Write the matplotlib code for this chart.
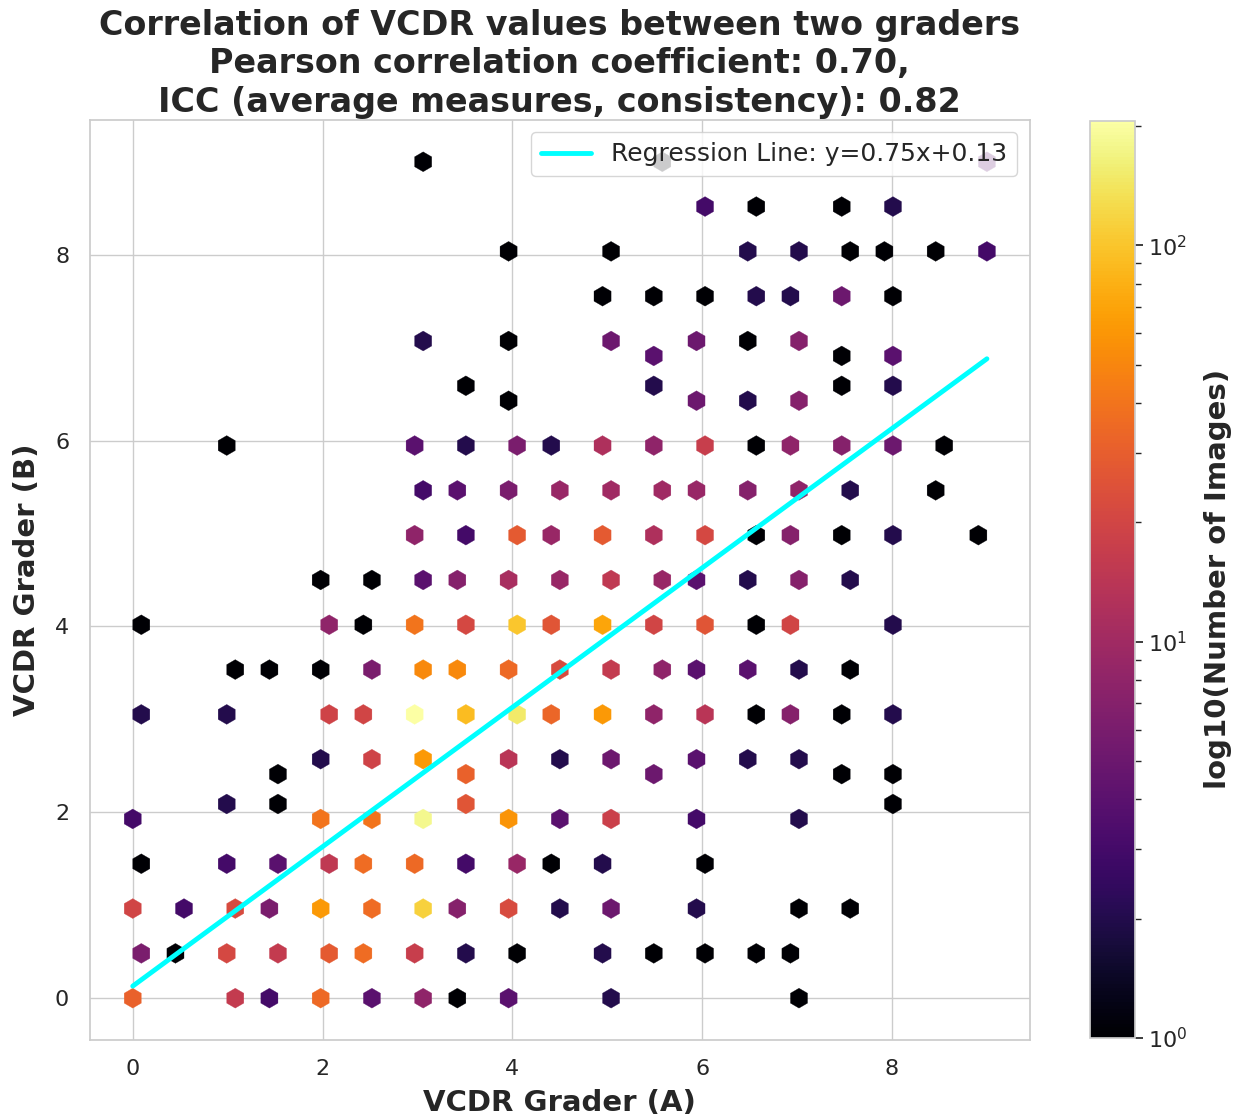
import numpy as np
import matplotlib.pyplot as plt
import seaborn as sns

# grade pairs (grader A, grader B) and how many images got that pair
grader_a = [0, 1, 1.5, 2, 2.5, 3, 3.5, 4, 5, 7,
            0, 0.5, 1, 1.5, 2, 2.5, 3, 3.5, 4, 5, 5.5, 6, 6.5, 7,
            0, 0.5, 1, 1.5, 2, 2.5, 3, 3.5, 4, 4.5, 5, 6, 7, 7.5,
            0, 1, 1.5, 2, 2.5, 3, 3.5, 4, 4.5, 5, 6,
            0, 1, 1.5, 2, 2.5, 3, 3.5, 4, 4.5, 5, 6, 7, 8,
            1.5, 2, 2.5, 3, 3.5, 4, 4.5, 5, 5.5, 6, 6.5, 7, 7.5, 8,
            0, 1, 2, 2.5, 3, 3.5, 4, 4.5, 5, 5.5, 6, 6.5, 7, 7.5, 8,
            1, 1.5, 2, 2.5, 3, 3.5, 4, 4.5, 5, 5.5, 6, 6.5, 7, 7.5,
            0, 2, 2.5, 3, 3.5, 4, 4.5, 5, 5.5, 6, 6.5, 7, 8,
            2, 2.5, 3, 3.5, 4, 4.5, 5, 5.5, 6, 6.5, 7, 7.5,
            3, 3.5, 4, 4.5, 5, 5.5, 6, 6.5, 7, 7.5, 8, 9,
            3, 3.5, 4, 4.5, 5, 5.5, 6, 6.5, 7, 7.5, 8.5,
            1, 3, 3.5, 4, 4.5, 5, 5.5, 6, 6.5, 7, 7.5, 8, 8.5,
            3.5, 4, 5.5, 6, 6.5, 7, 7.5, 8,
            3, 4, 5, 5.5, 6, 6.5, 7, 7.5, 8,
            5, 5.5, 6, 6.5, 7, 7.5, 8,
            4, 5, 6.5, 7, 7.5, 8, 8.5, 9,
            6, 6.5, 7.5, 8,
            3, 5.5, 9]

grader_b = [0] * 10 + [0.5] * 14 + [1] * 14 + [1.5] * 11 + [2] * 13 \
    + [2.5] * 14 + [3] * 15 + [3.5] * 14 + [4] * 13 + [4.5] * 12 \
    + [5] * 12 + [5.5] * 11 + [6] * 13 + [6.5] * 8 + [7] * 9 \
    + [7.5] * 7 + [8] * 8 + [8.5] * 4 + [9] * 3

n_images = [31, 16, 3, 35, 4, 8, 1, 4, 2, 1,
            6, 1, 21, 16, 28, 36, 17, 2, 1, 2, 1, 1, 1, 1,
            20, 3, 22, 6, 62, 36, 115, 7, 22, 2, 5, 2, 1, 1,
            1, 3, 4, 15, 36, 35, 3, 9, 1, 2, 1,
            3, 2, 1, 40, 40, 180, 26, 58, 4, 18, 3, 2, 1,
            1, 2, 19, 62, 31, 14, 2, 5, 5, 4, 2, 2, 1, 1,
            2, 2, 19, 20, 206, 90, 150, 33, 62, 8, 14, 1, 7, 1, 2,
            1, 1, 1, 6, 52, 52, 35, 22, 16, 8, 4, 4, 2, 1,
            1, 8, 1, 40, 21, 100, 26, 70, 20, 26, 1, 20, 2,
            1, 1, 4, 7, 11, 9, 15, 9, 4, 2, 7, 2,
            8, 3, 28, 9, 28, 12, 21, 1, 7, 1, 2, 1,
            3, 4, 6, 9, 10, 10, 9, 7, 8, 2, 1,
            1, 4, 2, 6, 2, 12, 8, 17, 1, 8, 7, 5, 1,
            1, 1, 2, 5, 2, 7, 1, 2,
            2, 1, 5, 4, 5, 1, 7, 1, 4,
            1, 1, 1, 2, 2, 5, 1,
            1, 1, 2, 2, 1, 1, 1, 3,
            3, 1, 1, 2,
            1, 1, 4]

slope = 0.75
intercept = 0.13

x = np.repeat(np.array(grader_a, dtype=float), n_images)
y = np.repeat(np.array(grader_b, dtype=float), n_images)

sns.set_theme(style="whitegrid")

fig = plt.figure(figsize=(12.42, 11.19), dpi=100)
ax = fig.add_axes([0.0725, 0.0706, 0.7565, 0.8222])
cax = fig.add_axes([0.8776, 0.0724, 0.0362, 0.8196])

hb = ax.hexbin(x, y, gridsize=50, cmap='inferno', bins='log', mincnt=1,
               linewidths=0.2)

xs = np.array([x.min(), x.max()])
ax.plot(xs, slope * xs + intercept, color='cyan', linewidth=3.5,
        label=f'Regression Line: y={slope:.2f}x+{intercept:.2f}')

ax.set_title('Correlation of VCDR values between two graders\n'
             'Pearson correlation coefficient: 0.70,\n'
             'ICC (average measures, consistency): 0.82',
             fontsize=24, fontweight='bold', pad=6)
ax.set_xlabel('VCDR Grader (A)', fontsize=21, fontweight='bold', labelpad=7)
ax.set_ylabel('VCDR Grader (B)', fontsize=21, fontweight='bold', labelpad=10)
ax.tick_params(axis='x', labelsize=16, pad=8)
ax.tick_params(axis='y', labelsize=16, pad=9)
ax.legend(loc='upper right', fontsize=18)

cb = fig.colorbar(hb, cax=cax)
cb.set_label('log10(Number of Images)', fontsize=21, fontweight='bold',
             labelpad=12)
cb.ax.tick_params(labelsize=16)

fig.savefig('out.png', dpi=100)
